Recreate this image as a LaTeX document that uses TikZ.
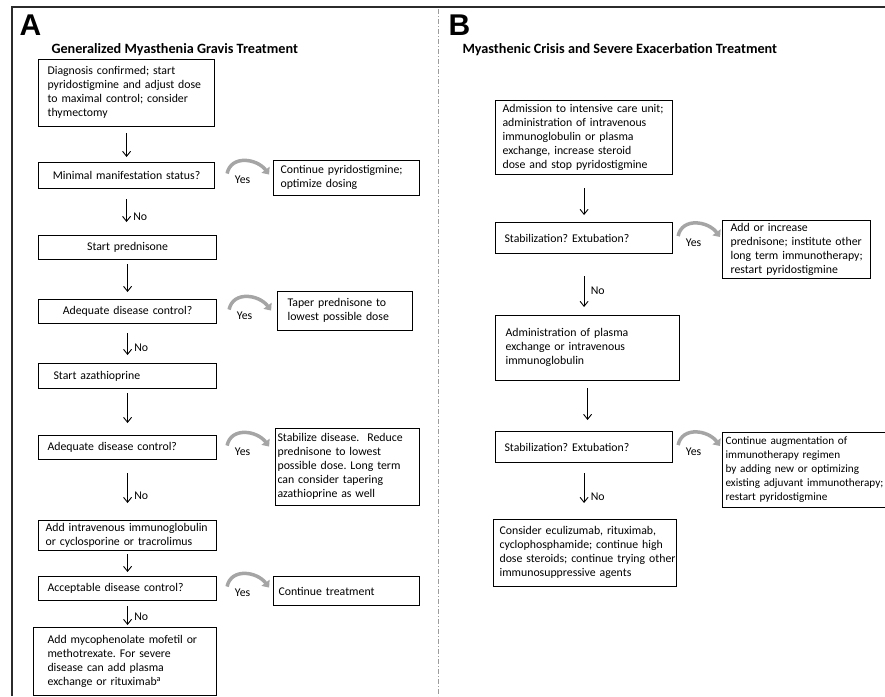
\documentclass[tikz,border=0pt]{standalone}
\usepackage{fontspec}
\setmainfont{Carlito}
\newfontfamily\panelfont{Liberation Sans}
\usepackage{tikz}
\usetikzlibrary{arrows.meta,positioning}
\definecolor{framegray}{HTML}{2B2B2B}
\definecolor{splitgray}{HTML}{9C9C9C}
\definecolor{yesgray}{HTML}{A5A5A5}
\frenchspacing
\newcommand{\rows}[1]{\noindent\begin{tabular}{@{}l@{}}#1\end{tabular}}
\tikzset{
  flowbox/.style={draw, line width=1.1pt, anchor=north west, align=left,
    inner xsep=9pt, inner ysep=1pt, font=\fontsize{11.8}{14}\selectfont},
  flowarrow/.style={-{Straight Barb[length=5pt,width=8pt]}, line width=0.9pt},
  yesarrow/.style={yesgray, line width=3.5pt, -{Triangle[length=6pt,width=10pt]}},
  flowlabel/.style={font=\fontsize{11.8}{14}\selectfont, text=black},
  paneltitle/.style={anchor=base west, font=\bfseries\fontsize{14.2}{16}\selectfont},
  panelletter/.style={anchor=base west, font=\panelfont\bfseries\fontsize{30}{30}\selectfont}
}

\begin{document}
\begin{tikzpicture}[x=1pt,y=-1pt]
  \useasboundingbox (0,0) rectangle (885,696);
  \draw[framegray, line width=2pt] (12,696) -- (12,7) -- (885,7);
  \draw[splitgray, line width=0.6pt, dash pattern=on 5pt off 2pt on 1pt off 2pt] (438,9) -- (438,696);

  \node[panelletter] (letterA) at (16,35) {A};
  \node[panelletter] (letterB) at (445,35) {B};
  \node[paneltitle] (titleA) at (48,53) {Generalized Myasthenia Gravis Treatment};
  \node[paneltitle] (titleB) at (459,53) {Myasthenic Crisis and Severe Exacerbation Treatment};

  % panel A
  \node[flowbox, text width=158pt, minimum height=67pt] (a1) at (38,59)
    {\rows{Diagnosis confirmed; start\\pyridostigmine and adjust dose\\to maximal control; consider\\thymectomy}};
  \node[flowbox, text width=158pt, minimum height=26pt, align=center] (a2) at (38,162) {Minimal manifestation status?};
  \node[flowbox, text width=132pt, minimum height=35pt, inner xsep=7pt] (a2y) at (273,160)
    {\rows{Continue pyridostigmine;\\optimize dosing}};
  \node[flowbox, text width=160pt, minimum height=24pt, align=center] (a3) at (38,235) {Start prednisone};
  \node[flowbox, text width=160pt, minimum height=24pt, align=center] (a4) at (38,299) {Adequate disease control?};
  \node[flowbox, text width=115pt, minimum height=39pt, inner xsep=10pt] (a4y) at (277,291)
    {\rows{Taper prednisone to\\lowest possible dose}};
  \node[flowbox, text width=148pt, minimum height=25pt, inner xsep=15pt] (a5) at (38,363) {Start azathioprine};
  \node[flowbox, text width=160pt, minimum height=24pt] (a6) at (38,435) {Adequate disease control?};
  \node[flowbox, text width=140pt, minimum height=77pt, inner xsep=2pt] (a6y) at (275,428)
    {\rows{Stabilize disease.\ \ Reduce\\prednisone to lowest\\possible dose. Long term\\can consider tapering\\azathioprine as well}};
  \node[flowbox, text width=164pt, minimum height=30pt, inner xsep=7pt] (a7) at (38,520)
    {\rows{Add intravenous immunoglobulin\\or cyclosporine or tracrolimus}};
  \node[flowbox, text width=160pt, minimum height=24pt] (a8) at (38,576) {Acceptable disease control?};
  \node[flowbox, text width=136pt, minimum height=29pt, inner xsep=5pt] (a8y) at (273,576) {Continue treatment};
  \node[flowbox, text width=155pt, minimum height=68pt, inner xsep=14pt] (a9) at (33,627)
    {\rows{Add mycophenolate mofetil or\\methotrexate. For severe\\disease can add plasma\\exchange or rituximab\textsuperscript{a}}};

  % panel B
  \node[flowbox, text width=163pt, minimum height=74pt, inner xsep=7pt] (b1) at (495,100)
    {\rows{Admission to intensive care unit;\\administration of intravenous\\immunoglobulin or plasma\\exchange, increase steroid\\dose and stop pyridostigmine}};
  \node[flowbox, text width=159pt, minimum height=31pt] (b2) at (495,222) {Stabilization? Extubation?};
  \node[flowbox, text width=132pt, minimum height=55pt, inner xsep=8pt] (b2y) at (722,220)
    {\rows{Add or increase\\prednisone; institute other\\long term immunotherapy;\\restart pyridostigmine}};
  \node[flowbox, text width=164pt, minimum height=65pt, inner xsep=10pt] (b3) at (495,315)
    {\rows{Administration of plasma\\exchange or intravenous\\immunoglobulin}};
  \node[flowbox, text width=159pt, minimum height=31pt] (b4) at (495,431) {Stabilization? Extubation?};
  \node[flowbox, text width=172pt, minimum height=75pt, inner xsep=3pt, font=\fontsize{11.2}{14}\selectfont] (b4y) at (722,432)
    {\rows{Continue augmentation of\\immunotherapy regimen\\by adding new or optimizing\\existing adjuvant immunotherapy;\\restart pyridostigmine}};
  \node[flowbox, text width=171pt, minimum height=67pt, inner xsep=6pt] (b5) at (493,519)
    {\rows{Consider eculizumab, rituximab,\\cyclophosphamide; continue high\\dose steroids; continue trying other\\immunosuppressive agents}};

  % plain steps
  \foreach \p/\n/\s/\e in {a1/a2/6/5, a3/a4/4/7, a5/a6/4/12, a7/a8/3/4, b1/b2/13/7, b3/b4/7/11}
    \draw[flowarrow, shorten <=\s pt, shorten >=\e pt] (\p.south) -- (\p.south |- \n.north);
  % no branches
  \foreach \p/\n/\s/\e in {a2/a3/10/13, a4/a5/9/8, a6/a7/13/17, a8/a9/5/2, b2/b3/22/8, b4/b5/10/16}
    \draw[flowarrow, shorten <=\s pt, shorten >=\e pt] (\p.south) -- (\p.south |- \n.north)
      node[flowlabel, pos=0.6, right=3pt] {No};
  % yes branches
  \foreach \q/\x in {a2/12, a4/12, a6/10, a8/10, b2/5, b4/5}
    \draw[yesarrow] ([xshift=\x pt, yshift=2pt]\q.east) .. controls +(4,-19) and +(-12,-16) .. ++(42,1)
      node[flowlabel, pos=0.45, yshift=-19pt] {Yes};
\end{tikzpicture}
\end{document}
